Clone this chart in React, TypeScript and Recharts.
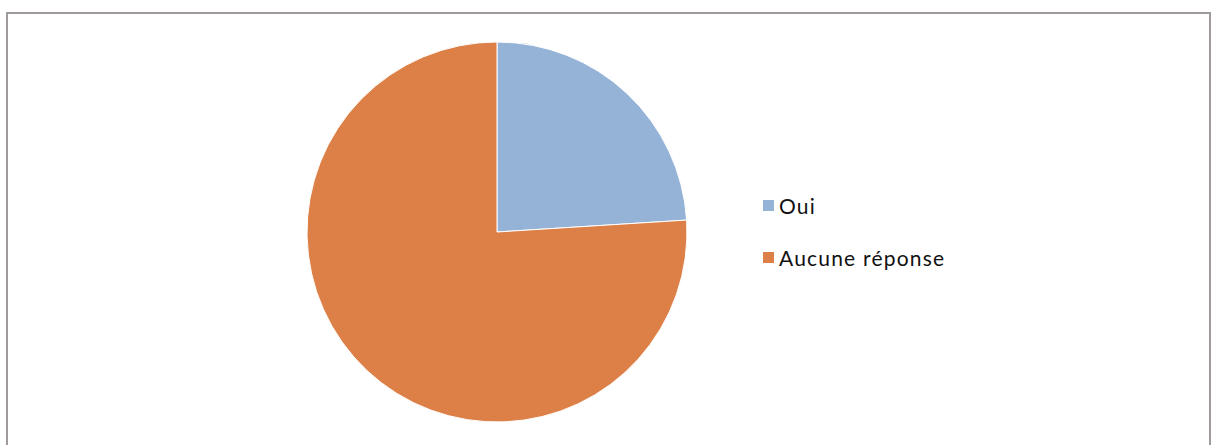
import { PieChart, Pie, Cell, Legend } from 'recharts';

const categories = ['Oui', 'Aucune réponse'];
const values = [6, 19];
const colors = ['#95b3d7', '#dd8047'];

const data = categories.map((name, i) => ({ name, value: values[i] }));

const LegendContent = () => (
  <div style={{ fontFamily: 'Lato, sans-serif', fontSize: 21, letterSpacing: 1.2, color: '#111' }}>
    {categories.map((c, i) => (
      <div key={c} style={{ display: 'flex', alignItems: 'center', height: 28, marginBottom: i === 0 ? 24 : 0 }}>
        <span style={{ width: 11, height: 11, background: colors[i], display: 'inline-block', marginRight: 5 }} />
        <span>{c}</span>
      </div>
    ))}
  </div>
);

export default function App() {
  return (
    <div style={{ position: 'absolute', left: 0, top: 0, width: 1214, height: 445, background: '#fff', overflow: 'hidden' }}>
      <div style={{ position: 'absolute', left: 6, top: 12, width: 1205, height: 460, border: '2px solid #a09a9a', boxSizing: 'border-box' }} />
      <div style={{ position: 'absolute', left: 0, top: 0 }}>
        <PieChart width={1214} height={445}>
          <Pie
            data={data}
            dataKey="value"
            nameKey="name"
            cx={492}
            cy={227}
            outerRadius={190}
            startAngle={90}
            endAngle={-270}
            stroke="#ffffff"
            strokeWidth={1}
            isAnimationActive={false}
          >
            {data.map((d, i) => (
              <Cell key={d.name} fill={colors[i]} />
            ))}
          </Pie>
          <Legend content={<LegendContent />} wrapperStyle={{ position: 'absolute', left: 763, top: 191, width: 300 }} />
        </PieChart>
      </div>
    </div>
  );
}
